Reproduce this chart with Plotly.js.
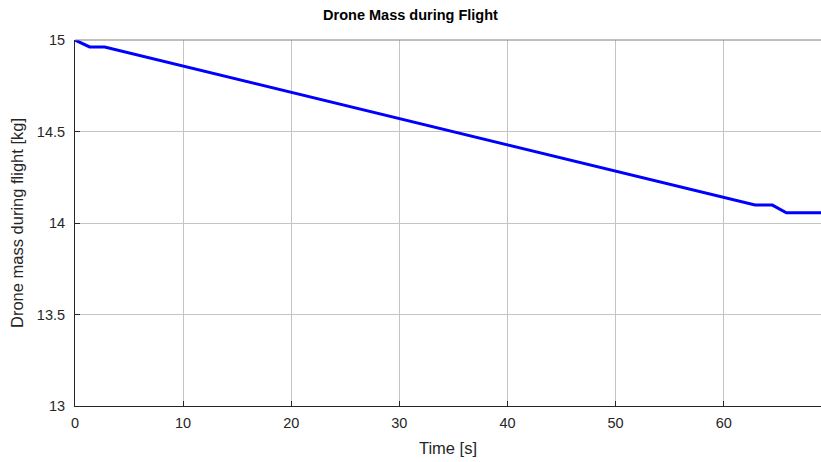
<!DOCTYPE html>
<html>
<head>
<meta charset="utf-8">
<script src="https://cdn.plot.ly/plotly-3.0.1.min.js"></script>
<style>html,body{margin:0;padding:0;background:#fff;}#chart{width:821px;height:462px;}</style>
</head>
<body>
<div id="chart"></div>
<script>
// Data
var timeS = [0, 1.35, 2.75, 62.9, 64.5, 65.8, 69];
var massKg = [15.0, 14.962, 14.962, 14.098, 14.098, 14.056, 14.056];
var xTicks = [0, 10, 20, 30, 40, 50, 60];
var yTicks = [13, 13.5, 14, 14.5, 15];
var yTickText = ['13', '13.5', '14', '14.5', '15'];

var trace = {
  x: timeS, y: massKg, type: 'scatter', mode: 'lines',
  line: {color: '#0000ff', width: 3},
  hoverinfo: 'skip'
};

var tickFont = {family: 'Liberation Sans, Arial, sans-serif', size: 14.5, color: '#262626'};
var labelFont = {family: 'Liberation Sans, Arial, sans-serif', size: 16.5, color: '#262626'};

var layout = {
  width: 821, height: 462,
  margin: {l: 75, r: 0, t: 40, b: 56},
  paper_bgcolor: '#ffffff', plot_bgcolor: '#ffffff',
  showlegend: false,
  font: tickFont,
  title: {text: '<b>Drone Mass during Flight</b>', xref: 'container', x: 0.5, xanchor: 'center',
          yref: 'container', y: 0.967, yanchor: 'middle',
          font: {family: 'Liberation Sans, Arial, sans-serif', size: 14.5, color: '#000000'}},
  xaxis: {
    range: [0, 69], tickvals: xTicks, ticks: 'inside', ticklen: 5, tickcolor: '#262626',
    showgrid: true, gridcolor: '#c4c4c4', gridwidth: 1,
    showline: true, linecolor: '#262626', linewidth: 1, mirror: false,
    zeroline: false, tickfont: tickFont, ticklabelstandoff: 4,
    title: {text: 'Time [s]', font: labelFont, standoff: 12}
  },
  yaxis: {
    range: [13, 15], tickvals: yTicks, ticktext: yTickText, ticks: 'inside', ticklen: 5, tickcolor: '#262626',
    showgrid: true, gridcolor: '#c4c4c4', gridwidth: 1,
    showline: true, linecolor: '#262626', linewidth: 1,
    zeroline: false, tickfont: tickFont, ticklabelstandoff: 6,
    title: {text: 'Drone mass during flight [kg]', font: labelFont, standoff: 9}
  },
  shapes: [{type: 'line', xref: 'paper', yref: 'paper', x0: 0, x1: 1, y0: 1, y1: 1,
            line: {color: '#808080', width: 1}}]
};

Plotly.newPlot('chart', [trace], layout, {staticPlot: true, displayModeBar: false});
</script>
</body>
</html>
